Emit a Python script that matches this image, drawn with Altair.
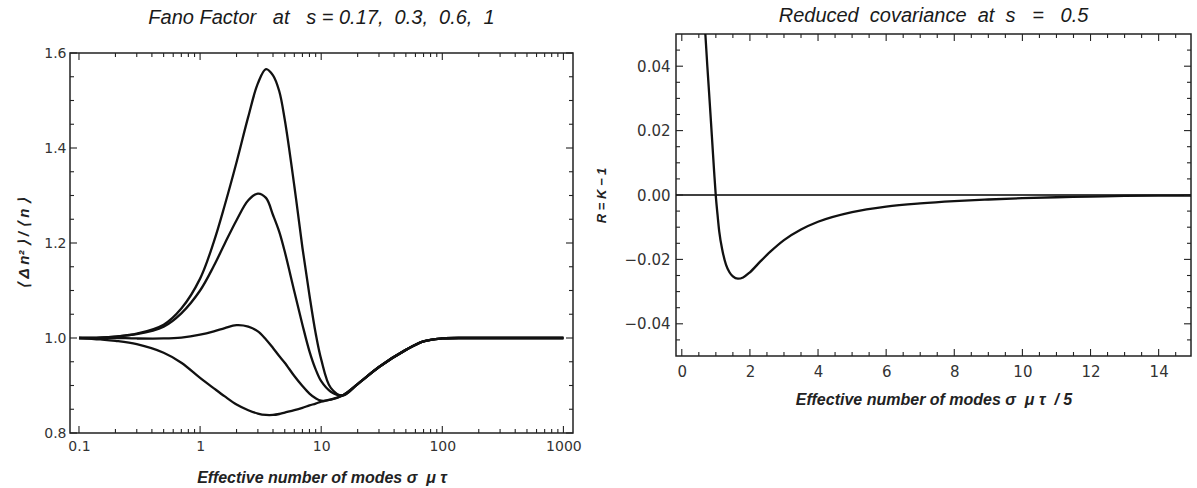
import altair as alt
import pandas as pd

# ---------------- data ----------------
fano_x = [0.1, 0.15, 0.2, 0.3, 0.5, 0.7, 1.0, 1.3, 1.6, 2.0, 2.5, 3.0, 3.5, 4.0, 4.5,
          5.0, 6.0, 7.0, 8.0, 9.0, 10.0, 12.0, 15.0, 20.0, 30.0, 50.0, 70.0, 100.0,
          150.0, 200.0, 500.0, 1000.0]
fano_s1 = [1.000, 1.001, 1.003, 1.009, 1.028, 1.062, 1.125, 1.203, 1.280, 1.370, 1.466,
           1.536, 1.566, 1.553, 1.520, 1.460, 1.320, 1.190, 1.090, 1.010, 0.955, 0.895,
           0.879, 0.903, 0.939, 0.975, 0.993, 0.999, 1.000, 1.000, 1.000, 1.000]
fano_s06 = [1.000, 1.001, 1.003, 1.008, 1.024, 1.052, 1.100, 1.152, 1.199, 1.248, 1.290,
            1.304, 1.295, 1.259, 1.224, 1.182, 1.098, 1.028, 0.972, 0.934, 0.909, 0.887,
            0.879, 0.903, 0.939, 0.975, 0.993, 0.999, 1.000, 1.000, 1.000, 1.000]
fano_s03 = [1.000, 1.000, 1.000, 0.999, 0.999, 1.001, 1.007, 1.014, 1.021, 1.027, 1.024,
            1.014, 0.997, 0.979, 0.962, 0.948, 0.920, 0.899, 0.883, 0.873, 0.868, 0.870,
            0.879, 0.903, 0.939, 0.975, 0.993, 0.999, 1.000, 1.000, 1.000, 1.000]
fano_s017 = [1.000, 0.997, 0.994, 0.987, 0.969, 0.948, 0.916, 0.894, 0.877, 0.860, 0.848,
             0.841, 0.838, 0.838, 0.840, 0.843, 0.848, 0.853, 0.858, 0.862, 0.866, 0.871,
             0.879, 0.903, 0.939, 0.975, 0.993, 0.999, 1.000, 1.000, 1.000, 1.000]
fano_labels = ["s = 1", "s = 0.6", "s = 0.3", "s = 0.17"]

cov_x = [0.68, 0.75, 0.8, 0.85, 0.9, 0.95, 1.0, 1.05, 1.1, 1.2, 1.3, 1.4, 1.5, 1.65, 1.8,
         2.0, 2.3, 2.6, 3.0, 3.5, 4.0, 5.0, 6.0, 7.0, 8.0, 9.0, 10.0, 11.0, 12.0, 13.0,
         14.0, 15.0]
cov_r = [0.052, 0.040, 0.032, 0.0238, 0.0155, 0.0072, -0.0005, -0.0062, -0.0114, -0.0176,
         -0.0217, -0.0240, -0.0253, -0.0260, -0.0256, -0.0240, -0.0207, -0.0176, -0.0140,
         -0.0107, -0.0083, -0.0053, -0.0036, -0.0026, -0.0019, -0.0014, -0.0010, -0.0007,
         -0.0005, -0.0003, -0.0002, -0.00015]

# tick values
left_major_x = [0.1, 1, 10, 100, 1000]
left_minor_x = [0.2, 0.3, 0.4, 0.5, 0.6, 0.7, 0.8, 0.9,
                2, 3, 4, 5, 6, 7, 8, 9,
                20, 30, 40, 50, 60, 70, 80, 90,
                200, 300, 400, 500, 600, 700, 800, 900]
left_major_y = [0.8, 1.0, 1.2, 1.4, 1.6]
left_minor_y = [0.85, 0.9, 0.95, 1.05, 1.1, 1.15, 1.25, 1.3, 1.35, 1.45, 1.5, 1.55]
right_major_x = [0, 2, 4, 6, 8, 10, 12, 14]
right_minor_x = [0.5, 1, 1.5, 2.5, 3, 3.5, 4.5, 5, 5.5, 6.5, 7, 7.5, 8.5, 9, 9.5,
                 10.5, 11, 11.5, 12.5, 13, 13.5, 14.5]
right_major_y = [-0.04, -0.02, 0.0, 0.02, 0.04]
right_minor_y = [-0.045, -0.035, -0.03, -0.025, -0.015, -0.01, -0.005,
                 0.005, 0.01, 0.015, 0.025, 0.03, 0.035, 0.045]

NB = "\u00a0"
left_title = f"Fano Factor{NB*3}at{NB*3}s = 0.17,{NB*2}0.3,{NB*2}0.6,{NB*2}1"
right_title = f"Reduced{NB*2}covariance{NB*2}at{NB*2}s{NB*3}={NB*3}0.5"
left_xtitle = f"Effective number of modes σ{NB*2}μ τ"
right_xtitle = f"Effective number of modes σ{NB*2}μ τ{NB*2}/{NB}5"
left_ytitle = f"⟨{NB}Δ n²{NB}⟩ / ⟨{NB}n{NB}⟩"
right_ytitle = f"R{NB}={NB}K{NB}−{NB}1"

# ---------------- styling ----------------
LW, LH = 503, 380
RW, RH = 515, 322
INK = "#111111"
FRAME = "#222222"
LABEL_FONT = "DejaVu Sans"
TITLE_FONT = "Liberation Sans"


def make_axis(values, fmt, title, label_size, label_pad, title_pad, title_size):
    return alt.Axis(
        values=values, format=fmt, title=title, ticks=False, domain=False, grid=False,
        labelFont=LABEL_FONT, labelFontSize=label_size, labelColor="#333333",
        labelPadding=label_pad, labelFlush=False, labelOverlap=False,
        titleFont=TITLE_FONT, titleFontSize=title_size, titleFontStyle="italic",
        titleFontWeight="bold", titleColor="#222222", titlePadding=title_pad)


def frame_ticks(xscale, yscale, xaxis, yaxis, W, H, xmaj, xmin, ymaj, ymin):
    layers = []
    for vals, L in [(xmaj, 7), (xmin, 4)]:
        base = alt.Chart(pd.DataFrame({"t": vals})).mark_rule(color=FRAME, strokeWidth=1.1)
        xe = alt.X("t:Q", scale=xscale, axis=xaxis)
        layers.append(base.encode(x=xe, y=alt.value(H), y2=alt.value(H - L)))
        layers.append(base.encode(x=xe, y=alt.value(0), y2=alt.value(L)))
    for vals, L in [(ymaj, 7), (ymin, 4)]:
        base = alt.Chart(pd.DataFrame({"t": vals})).mark_rule(color=FRAME, strokeWidth=1.1)
        ye = alt.Y("t:Q", scale=yscale, axis=yaxis)
        layers.append(base.encode(y=ye, x=alt.value(0), x2=alt.value(L)))
        layers.append(base.encode(y=ye, x=alt.value(W), x2=alt.value(W - L)))
    return layers


def head(text, width, height):
    """An empty, frameless strip that carries a panel's title."""
    return alt.Chart(pd.DataFrame({"a": [0]})).mark_point(opacity=0).encode(
        x=alt.X("a:Q", axis=None), y=alt.Y("a:Q", axis=None)
    ).properties(
        width=width, height=height,
        view=alt.ViewBackground(stroke="transparent"),
        title=alt.TitleParams(
            text, font=TITLE_FONT, fontSize=20, fontStyle="italic", fontWeight="normal",
            color="#1a1a1a", anchor="middle", frame="group", offset=0),
    )


# ---------------- left chart ----------------
rows = []
for lab, ys in zip(fano_labels, [fano_s1, fano_s06, fano_s03, fano_s017]):
    for xv, yv in zip(fano_x, ys):
        rows.append({"x": xv, "v": yv, "s": lab})
fano_df = pd.DataFrame(rows)

lx_scale = alt.Scale(type="log", domain=[0.0843, 1200], nice=False)
ly_scale = alt.Scale(domain=[0.8, 1.6], nice=False, zero=False)
lx_axis = make_axis(left_major_x, "~g", left_xtitle, 14, 6, 16, 16)
ly_axis = make_axis(left_major_y, ".1f", left_ytitle, 14, 4, 12, 15)

left_lines = alt.Chart(fano_df).mark_line(
    color=INK, strokeWidth=2.3, interpolate="catmull-rom", clip=True
).encode(
    x=alt.X("x:Q", scale=lx_scale, axis=lx_axis),
    y=alt.Y("v:Q", scale=ly_scale, axis=ly_axis),
    detail="s:N",
)

left = alt.layer(
    left_lines,
    *frame_ticks(lx_scale, ly_scale, lx_axis, ly_axis, LW, LH, left_major_x, left_minor_x,
                 left_major_y, left_minor_y),
).properties(width=LW, height=LH)

# ---------------- right chart ----------------
cov_df = pd.DataFrame({"x": cov_x, "r": cov_r})
rx_scale = alt.Scale(domain=[-0.17, 14.95], nice=False, zero=False)
ry_scale = alt.Scale(domain=[-0.05, 0.05], nice=False, zero=False)
rx_axis = make_axis(right_major_x, "d", right_xtitle, 15, 8, 12, 16)
ry_axis = make_axis(right_major_y, ".2f", right_ytitle, 15, 6, 16, 13)

zero_line = alt.Chart(pd.DataFrame({"z": [0.0]})).mark_rule(
    color="#000000", strokeWidth=1.5
).encode(y=alt.Y("z:Q", scale=ry_scale, axis=ry_axis))

right_line = alt.Chart(cov_df).mark_line(
    color=INK, strokeWidth=2.3, interpolate="monotone", clip=True
).encode(
    x=alt.X("x:Q", scale=rx_scale, axis=rx_axis),
    y=alt.Y("r:Q", scale=ry_scale, axis=ry_axis),
)

right = alt.layer(
    zero_line, right_line,
    *frame_ticks(rx_scale, ry_scale, rx_axis, ry_axis, RW, RH, right_major_x, right_minor_x,
                 right_major_y, right_minor_y),
).properties(width=RW, height=RH)

left_col = alt.vconcat(head(left_title, LW, 16), left, spacing=0)
right_col = alt.vconcat(head(right_title, RW, 1), right, spacing=0)

chart = alt.hconcat(left_col, right_col, spacing=12).properties(
    padding={"left": 15, "top": 5, "right": 0, "bottom": 0},
    background="white",
).configure_view(stroke=FRAME, strokeWidth=1.5)

chart.save("out.html", embed_options={"renderer": "svg", "actions": False})
